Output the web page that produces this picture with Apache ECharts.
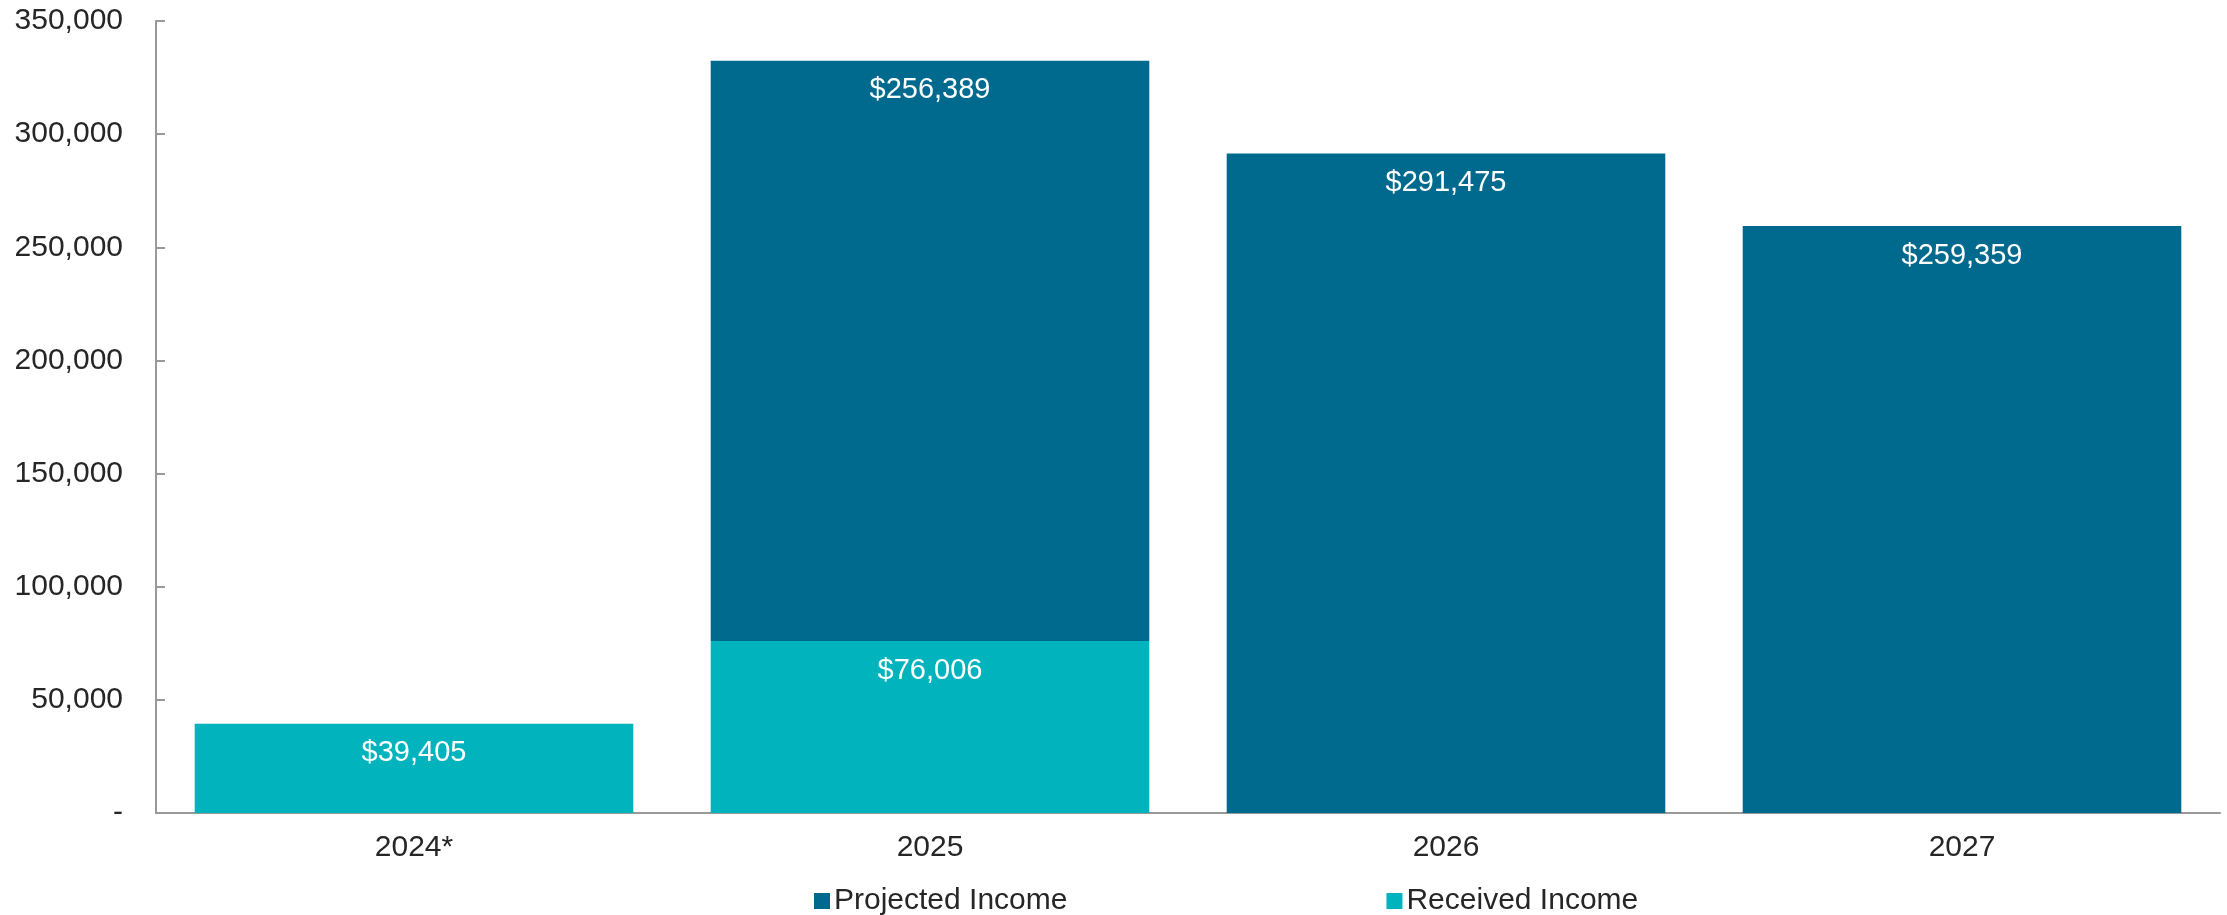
<!DOCTYPE html>
<html>
<head>
<meta charset="utf-8">
<script src="https://cdn.jsdelivr.net/npm/echarts@6/dist/echarts.min.js"></script>
<style>
html,body{margin:0;padding:0;background:#fff;}
#chart{width:2227px;height:915px;}
</style>
</head>
<body>
<div id="chart"></div>
<script>
const categories = ['2024*', '2025', '2026', '2027'];
const receivedIncome = [39405, 76006, null, null];
const projectedIncome = [null, 256389, 291475, 259359];
const seriesNames = ['Projected Income', 'Received Income'];
const yTicks = { min: 0, max: 350000, interval: 50000 };

const FONT = '"Liberation Sans", Arial, Helvetica, sans-serif';
const TEXT = '#262626';
const AXIS = '#999999';
const DARK = '#006A8E';
const TEAL = '#00B3BC';

function money(v) {
  return '$' + Number(v).toLocaleString('en-US');
}

const chart = echarts.init(document.getElementById('chart'), null, { renderer: 'canvas' });

const labelStyle = {
  show: true,
  position: 'insideTop',
  distance: 15,
  color: '#ffffff',
  fontSize: 29,
  fontFamily: FONT,
  formatter: p => money(p.value)
};

chart.setOption({
  animation: false,
  backgroundColor: '#ffffff',
  textStyle: { fontFamily: FONT },
  grid: { left: 156, right: 7, top: 21, bottom: 102, containLabel: false },
  legend: {
    data: seriesNames,
    left: 809,
    top: 881,
    itemWidth: 16,
    itemHeight: 16,
    itemGap: 319,
    icon: 'rect',
    textStyle: { color: TEXT, fontSize: 30, fontFamily: FONT, padding: [0, 0, 0, -1] }
  },
  xAxis: {
    type: 'category',
    data: categories,
    axisLine: { show: true, lineStyle: { color: AXIS, width: 2 } },
    axisTick: { show: false },
    axisLabel: { color: TEXT, fontSize: 30, fontFamily: FONT, margin: 20 }
  },
  yAxis: {
    type: 'value',
    min: yTicks.min,
    max: yTicks.max,
    interval: yTicks.interval,
    splitLine: { show: false },
    axisLine: { show: true, lineStyle: { color: AXIS, width: 2 } },
    axisTick: { show: true, inside: true, length: 9, lineStyle: { color: AXIS, width: 2 } },
    axisLabel: {
      color: TEXT, fontSize: 30, fontFamily: FONT, margin: 33,
      formatter: v => v === 0 ? '-' : Number(v).toLocaleString('en-US')
    }
  },
  series: [
    {
      name: 'Received Income',
      type: 'bar',
      stack: 'income',
      data: receivedIncome,
      barCategoryGap: '15%',
      itemStyle: { color: TEAL },
      label: labelStyle
    },
    {
      name: 'Projected Income',
      type: 'bar',
      stack: 'income',
      data: projectedIncome,
      barCategoryGap: '15%',
      itemStyle: { color: DARK },
      label: labelStyle
    }
  ]
});
</script>
</body>
</html>
